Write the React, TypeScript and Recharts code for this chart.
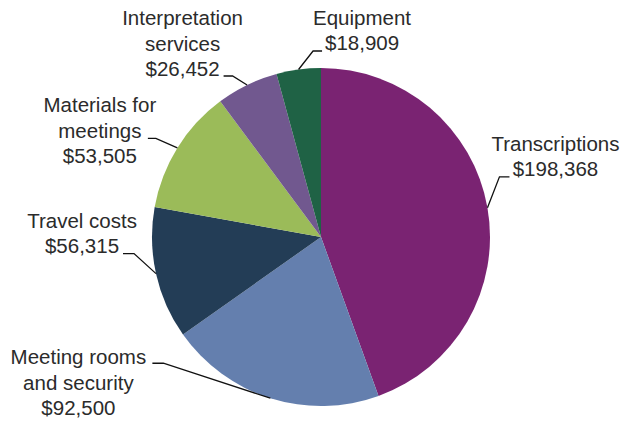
import { PieChart, Pie, Cell } from "recharts";

// categories (clockwise from 12 o'clock)
const categories = [
  "Transcriptions",
  "Meeting rooms\nand security",
  "Travel costs",
  "Materials for\nmeetings",
  "Interpretation\nservices",
  "Equipment",
];
const amounts = [198368, 92500, 56315, 53505, 26452, 18909];
const colors = ["#7A2372", "#647FAE", "#233D56", "#9BBB59", "#71588F", "#1F6245"];

// leader-line layout per slice: elbow offset from slice edge, tail length,
// text centre and first baseline relative to the elbow
const labelLayout = [
  { ex: 12, ey: -31, tail: 10, tx: 56, ty: -26 },
  { ex: -107, ey: -35, tail: -11, tx: -85, ty: 1 },
  { ex: -22, ey: -20, tail: -11, tx: -52, ty: -26 },
  { ex: -21.5, ey: -9.5, tail: -8, tx: -56, ty: -26 },
  { ex: -14.5, ey: -9, tail: -9, tx: -50, ty: -51 },
  { ex: 14.5, ey: -18.5, tail: 9, tx: 49, ty: -26 },
];

const data = categories.map((name, i) => ({ name, value: amounts[i] }));

const RAD = Math.PI / 180;
const LINE_H = 25.5;

function renderLabel(props: any) {
  const { cx, cy, midAngle, outerRadius, index } = props;
  const lay = labelLayout[index];
  const x0 = cx + outerRadius * Math.cos(-midAngle * RAD);
  const y0 = cy + outerRadius * Math.sin(-midAngle * RAD);
  const x1 = x0 + lay.ex;
  const y1 = y0 + lay.ey;
  const x2 = x1 + lay.tail;
  const lines = [
    ...categories[index].split("\n"),
    "$" + amounts[index].toLocaleString("en-US"),
  ];
  return (
    <g key={`lbl-${index}`}>
      <polyline
        points={`${x0},${y0} ${x1},${y1} ${x2},${y1}`}
        fill="none"
        stroke="#111"
        strokeWidth={1.3}
      />
      <text
        x={x1 + lay.tx}
        y={y1 + lay.ty}
        textAnchor="middle"
        fill="#2b2b2b"
        fontSize={20.5}
        fontFamily="'Liberation Sans', Arial, sans-serif"
      >
        {lines.map((t, j) => (
          <tspan key={j} x={x1 + lay.tx} y={y1 + lay.ty + j * LINE_H}>
            {t}
          </tspan>
        ))}
      </text>
    </g>
  );
}

export default function App() {
  return (
    <div style={{ position: "absolute", top: 0, left: 0, width: 624, height: 421, background: "#fff" }}>
      <PieChart width={624} height={421} margin={{ top: 0, right: 0, bottom: 0, left: 0 }}>
        <Pie
          data={data}
          dataKey="value"
          nameKey="name"
          cx={321}
          cy={237}
          outerRadius={169}
          startAngle={90}
          endAngle={-270}
          stroke="none"
          label={renderLabel}
          labelLine={false}
          isAnimationActive={false}
        >
          {data.map((_, i) => (
            <Cell key={i} fill={colors[i]} />
          ))}
        </Pie>
      </PieChart>
    </div>
  );
}
